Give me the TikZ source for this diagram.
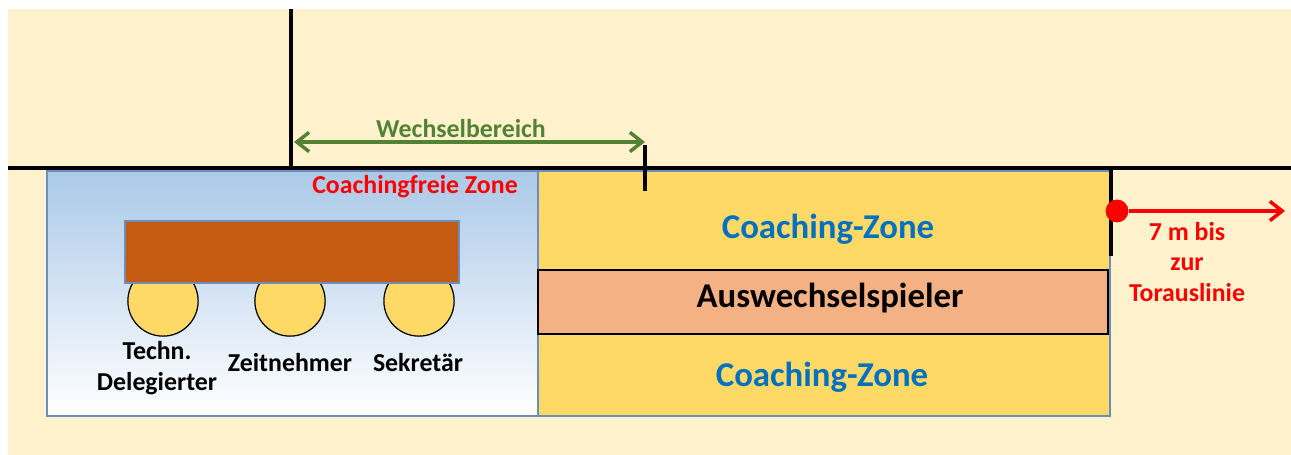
\documentclass[tikz,border=0pt]{standalone}
\usepackage{fontspec}
\setmainfont{Carlito}
\usetikzlibrary{arrows.meta, positioning}
\definecolor{cream}{HTML}{FFF2CC}
\definecolor{zoneblue}{HTML}{ABC9E8}
\definecolor{edgeblue}{HTML}{6C8EBF}
\definecolor{coachyellow}{HTML}{FFD966}
\definecolor{benchbrown}{HTML}{C55A11}
\definecolor{subsorange}{HTML}{F4B183}
\definecolor{textblue}{HTML}{0070C0}
\definecolor{textgreen}{HTML}{548235}
\definecolor{textred}{HTML}{FF0000}

\begin{document}
\begin{tikzpicture}[x=0.02cm, y=-0.02cm,
    every node/.style={font=\bfseries},
    zone/.style={draw=edgeblue, line width=0.8pt},
    border/.style={line width=2.8pt, black},
    official/.style={circle, draw=black, line width=0.7pt, fill=coachyellow, minimum size=40pt, inner sep=0pt},
    label/.style={font=\bfseries\fontsize{14.7}{17.6}\selectfont, align=center},
    bigzone/.style={font=\bfseries\fontsize{19.8}{22}\selectfont}]
    \useasboundingbox (0,0) rectangle (1291,455);
    \fill[cream] (8,9) rectangle (1291,455);
    % zones
    \shade[zone, top color=zoneblue, bottom color=white] (47,171) rectangle (538,416);
    \filldraw[zone, fill=coachyellow] (538,171) rectangle (1110,416);
    \filldraw[draw=black, line width=0.8pt, fill=subsorange] (538,270) rectangle (1108,334);
    \node[bigzone, text=textblue] (coachtop) at (828,229) {Coaching-Zone};
    \node[bigzone] (subs) at (830,298) {Auswechselspieler};
    \node[bigzone, text=textblue] (coachbot) at (822,377) {Coaching-Zone};
    \node[label, text=textred] (free) at (415,187) {Coachingfreie Zone};
    % bench with officials
    \node[official] (tech) at (163,301) {};
    \node[official] (time) at (290,301) {};
    \node[official] (sec) at (419,301) {};
    \filldraw[draw=edgeblue, line width=0.8pt, fill=benchbrown] (125,221) rectangle (459,283);
    \node[label] (techlbl) at (157,368) {Techn.\\Delegierter};
    \node[label] (timelbl) at (290,363) {Zeitnehmer};
    \node[label] (seclbl) at (418,363) {Sekretär};
    % lines
    \draw[border] (8,168) -- (1291,168);
    \draw[border] (291,9) -- (291,168);
    \draw[border] (645,145) -- (645,191);
    \draw[border] (1111,168) -- (1111,256);
    % substitution area
    \coordinate (wleft) at (294,142);
    \coordinate (wright) at (645,142);
    \draw[textgreen, line width=2pt, {Straight Barb[length=7pt,width=11pt]}-{Straight Barb[length=7pt,width=11pt]}] (wleft) -- (wright);
    \node[label, text=textgreen] (wlbl) at (461,129) {Wechselbereich};
    % distance to goal line
    \node[circle, fill=textred, minimum size=13pt, inner sep=0pt] (dot) at (1117,211) {};
    \coordinate (goal) at (1285,211);
    \draw[textred, line width=2pt, -{Straight Barb[length=7pt,width=11pt]}] (dot) -- (goal);
    \node[label, text=textred] (dist) at (1187,262) {7 m bis\\zur\\Torauslinie};
\end{tikzpicture}
\end{document}
